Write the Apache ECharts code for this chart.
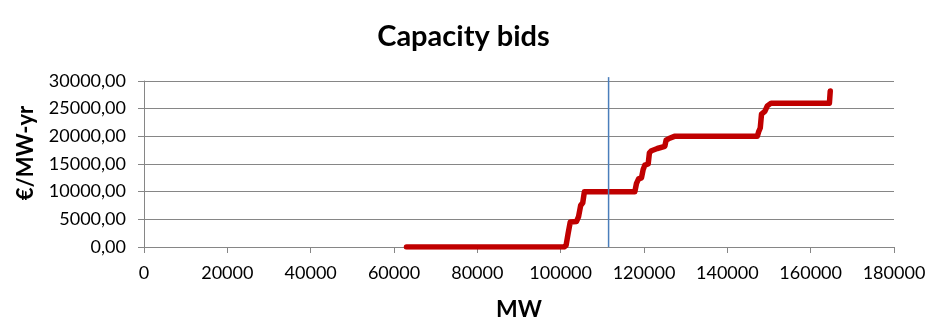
<!DOCTYPE html>
<html><head><meta charset="utf-8">
<script src="https://cdn.jsdelivr.net/npm/echarts@6/dist/echarts.min.js"></script>
<style>html,body{margin:0;padding:0;background:#fff}#c{width:927px;height:321px}</style>
</head><body><div id="c"></div>
<script>
const bidMW = [63000,100800,101300,101800,102300,103800,104300,104800,105300,105700,117800,118200,118700,119400,119800,120200,121000,121300,121800,123200,125000,125300,126000,127300,136000,147200,147500,147900,148200,149000,149600,150500,164500,164700,164700];
const bidPrice = [0,0,300,2500,4500,4600,5500,7500,8000,10000,10000,11500,12300,12500,14000,14800,15000,17000,17400,17800,18200,19300,19600,20000,20000,20000,20800,21500,24000,24500,25500,26000,26000,26300,28200];
const markerMW = [111500,111500];
const markerPrice = [0,30700];
const xTicks = [0,20000,40000,60000,80000,100000,120000,140000,160000,180000];
const yTicks = [0,5000,10000,15000,20000,25000,30000];

const font = 'Lato, "Open Sans", sans-serif';
const chart = echarts.init(document.getElementById('c'));
chart.setOption({
  animation:false,
  title:{text:'Capacity bids',left:'center',top:17,textStyle:{fontFamily:font,fontWeight:'bold',fontSize:29,color:'#000'}},
  grid:{left:144,right:33,top:81,bottom:74,containLabel:false,outerBoundsMode:'none'},
  xAxis:{type:'value',min:xTicks[0],max:xTicks[xTicks.length-1],interval:20000,
    name:'MW',nameLocation:'middle',nameGap:51,nameTextStyle:{fontFamily:font,fontWeight:'bold',fontSize:23,color:'#000'},
    axisLine:{lineStyle:{color:'#868686',width:1}},axisTick:{show:true,length:6,lineStyle:{color:'#868686'}},
    axisLabel:{fontFamily:font,fontSize:18,color:'#000',margin:17,formatter:v=>String(v)},splitLine:{show:false}},
  yAxis:{type:'value',min:yTicks[0],max:yTicks[yTicks.length-1],interval:5000,
    name:'€/MW-yr',nameLocation:'middle',nameGap:107,nameTextStyle:{fontFamily:font,fontWeight:'bold',fontSize:22,color:'#000',padding:[0,0,0,22]},
    axisLine:{show:true,lineStyle:{color:'#868686',width:1}},axisTick:{show:true,length:6,lineStyle:{color:'#868686'}},
    axisLabel:{fontFamily:font,fontSize:18,color:'#000',margin:18,formatter:v=>v.toFixed(2).replace('.',',')},
    splitLine:{show:true,lineStyle:{color:'#868686',width:1}}},
  series:[
    {type:'line',data:bidMW.map((x,i)=>[x,bidPrice[i]]),showSymbol:false,lineStyle:{color:'#c00000',width:5.5,cap:'round',join:'round'},z:3},
    {type:'line',data:markerMW.map((x,i)=>[x,markerPrice[i]]),showSymbol:false,clip:false,lineStyle:{color:'#4a7ebb',width:1.5},z:4}
  ]
});
</script></body></html>
